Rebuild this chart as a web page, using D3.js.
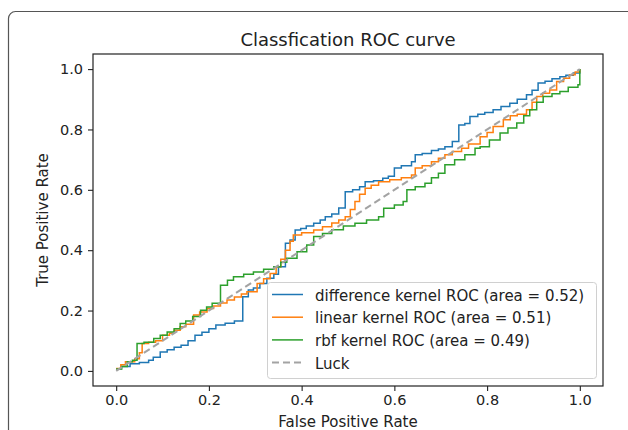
<!DOCTYPE html>
<html>
<head>
<meta charset="utf-8">
<script src="https://cdn.jsdelivr.net/npm/d3@7"></script>
<style>
  body { margin: 0; background: #fff; }
  text { font-family: "DejaVu Sans", sans-serif; fill: #222; }
</style>
</head>
<body>
<div id="vis"></div>
<script>
// ROC curves, [fpr, tpr] after each step
const diffRoc = [
	[0,0.006],[0.01,0.015],[0.03,0.024],[0.05,0.028],[0.07,0.035],[0.08,0.045],[0.095,0.063],
	[0.11,0.07],[0.125,0.078],[0.14,0.085],[0.155,0.1],[0.17,0.118],[0.185,0.128],[0.2,0.14],
	[0.215,0.152],[0.235,0.158],[0.255,0.165],[0.273,0.246],[0.285,0.268],[0.296,0.275],
	[0.31,0.29],[0.325,0.307],[0.34,0.32],[0.35,0.345],[0.365,0.423],[0.375,0.434],[0.386,0.467],
	[0.398,0.472],[0.41,0.48],[0.426,0.489],[0.44,0.5],[0.451,0.511],[0.465,0.52],[0.48,0.54],
	[0.494,0.594],[0.51,0.6],[0.525,0.61],[0.537,0.627],[0.555,0.63],[0.575,0.638],[0.587,0.645],
	[0.6,0.672],[0.615,0.68],[0.637,0.693],[0.645,0.716],[0.66,0.72],[0.68,0.73],[0.695,0.735],
	[0.709,0.743],[0.725,0.76],[0.739,0.815],[0.752,0.82],[0.763,0.843],[0.78,0.85],[0.795,0.856],
	[0.813,0.865],[0.83,0.876],[0.849,0.887],[0.865,0.9],[0.885,0.915],[0.897,0.93],[0.91,0.954],
	[0.925,0.96],[0.94,0.968],[0.957,0.975],[0.97,0.98],[0.986,0.987],[1.0,1.0]
];
const linearRoc = [
	[0,0.008],[0.01,0.02],[0.02,0.03],[0.04,0.04],[0.05,0.06],[0.056,0.091],[0.07,0.095],
	[0.085,0.1],[0.1,0.118],[0.115,0.125],[0.125,0.135],[0.138,0.146],[0.15,0.155],[0.167,0.185],
	[0.18,0.195],[0.196,0.207],[0.21,0.215],[0.225,0.225],[0.239,0.235],[0.255,0.245],[0.27,0.255],
	[0.282,0.262],[0.304,0.29],[0.318,0.305],[0.332,0.323],[0.345,0.345],[0.355,0.37],[0.365,0.4],
	[0.375,0.43],[0.382,0.45],[0.4,0.458],[0.426,0.467],[0.445,0.478],[0.465,0.49],[0.48,0.5],
	[0.494,0.511],[0.505,0.535],[0.515,0.561],[0.525,0.585],[0.537,0.605],[0.55,0.615],[0.566,0.627],
	[0.59,0.633],[0.615,0.64],[0.637,0.649],[0.645,0.672],[0.66,0.68],[0.68,0.693],[0.695,0.705],
	[0.709,0.716],[0.725,0.727],[0.745,0.738],[0.76,0.752],[0.785,0.776],[0.8,0.79],[0.813,0.81],
	[0.835,0.832],[0.85,0.845],[0.865,0.85],[0.885,0.865],[0.897,0.89],[0.907,0.909],[0.92,0.92],
	[0.935,0.931],[0.95,0.959],[0.965,0.97],[0.978,0.981],[0.99,0.99],[1.0,1.0]
];
const rbfRoc = [
	[0,0.006],[0.012,0.015],[0.024,0.03],[0.035,0.035],[0.045,0.091],[0.06,0.095],[0.081,0.107],
	[0.095,0.118],[0.11,0.129],[0.125,0.14],[0.138,0.157],[0.15,0.165],[0.165,0.18],[0.182,0.201],
	[0.195,0.212],[0.207,0.224],[0.225,0.284],[0.24,0.3],[0.253,0.312],[0.275,0.32],[0.296,0.328],
	[0.318,0.337],[0.34,0.345],[0.355,0.36],[0.368,0.373],[0.39,0.395],[0.411,0.417],[0.426,0.445],
	[0.445,0.455],[0.465,0.468],[0.49,0.48],[0.515,0.489],[0.54,0.5],[0.566,0.511],[0.577,0.539],
	[0.6,0.55],[0.619,0.561],[0.627,0.6],[0.645,0.61],[0.666,0.622],[0.68,0.64],[0.695,0.655],
	[0.709,0.683],[0.73,0.7],[0.752,0.716],[0.774,0.738],[0.785,0.743],[0.805,0.765],[0.828,0.788],
	[0.845,0.805],[0.864,0.821],[0.879,0.845],[0.892,0.865],[0.907,0.89],[0.921,0.909],[0.94,0.918],
	[0.957,0.926],[0.975,0.94],[0.996,0.948],[1.0,1.0]
];
const luckLine = [[0,0],[1,1]];

const seriesNames = [
	"difference kernel ROC (area = 0.52)",
	"linear kernel ROC (area = 0.51)",
	"rbf kernel ROC (area = 0.49)",
	"Luck"
];
const seriesColors = ["#1f77b4", "#ff7f0e", "#2ca02c", "#a3a3a3"];
const xTicks = [0, 0.2, 0.4, 0.6, 0.8, 1.0];
const yTicks = [0, 0.2, 0.4, 0.6, 0.8, 1.0];

const W = 628, H = 430;
const plot = {left: 93, top: 54, right: 603, bottom: 386};

const svg = d3.select("#vis").append("svg")
	.attr("width", W)
	.attr("height", H);

// outer frame of the figure (runs off right and bottom)
svg.append("rect")
	.attr("x", 8.5).attr("y", 11.5)
	.attr("width", 660).attr("height", 460)
	.attr("rx", 7)
	.attr("fill", "none")
	.attr("stroke", "#555")
	.attr("stroke-width", 1.2);

const x = d3.scaleLinear().domain([-0.05, 1.05]).range([plot.left, plot.right]);
const y = d3.scaleLinear().domain([-0.05, 1.05]).range([plot.bottom, plot.top]);

const xAxis = svg.append("g")
	.attr("transform", `translate(0,${plot.bottom})`)
	.call(d3.axisBottom(x).tickValues(xTicks).tickFormat(d3.format(".1f")).tickSize(5).tickPadding(4));
const yAxis = svg.append("g")
	.attr("transform", `translate(${plot.left},0)`)
	.call(d3.axisLeft(y).tickValues(yTicks).tickFormat(d3.format(".1f")).tickSize(5).tickPadding(5));
[xAxis, yAxis].forEach(g => {
	g.select(".domain").remove();
	g.selectAll(".tick line").attr("stroke", "#222").attr("stroke-width", 1.1);
	g.selectAll(".tick text")
		.style("font-family", "DejaVu Sans")
		.style("font-size", "14.5px")
		.attr("fill", "#222");
});

const line = d3.line()
	.x(d => x(d[0]))
	.y(d => y(d[1]))
	.curve(d3.curveStepAfter);

[diffRoc, linearRoc, rbfRoc].forEach((s, i) => {
	svg.append("path")
		.datum(s)
		.attr("d", line)
		.attr("fill", "none")
		.attr("stroke", seriesColors[i])
		.attr("stroke-width", 1.5);
});

svg.append("path")
	.datum(luckLine)
	.attr("d", d3.line().x(d => x(d[0])).y(d => y(d[1])))
	.attr("fill", "none")
	.attr("stroke", seriesColors[3])
	.attr("stroke-width", 2)
	.attr("stroke-dasharray", "7,4");

// spines
svg.append("rect")
	.attr("x", plot.left).attr("y", plot.top)
	.attr("width", plot.right - plot.left)
	.attr("height", plot.bottom - plot.top)
	.attr("fill", "none")
	.attr("stroke", "#222")
	.attr("stroke-width", 1.2);

// title and axis labels
svg.append("text")
	.attr("x", (plot.left + plot.right) / 2).attr("y", 46)
	.attr("text-anchor", "middle")
	.style("font-size", "18px")
	.text("Classfication ROC curve");
svg.append("text")
	.attr("x", (plot.left + plot.right) / 2).attr("y", 427)
	.attr("text-anchor", "middle")
	.style("font-size", "15px")
	.text("False Positive Rate");
svg.append("text")
	.attr("transform", `translate(48,${(plot.top + plot.bottom) / 2}) rotate(-90)`)
	.attr("text-anchor", "middle")
	.style("font-size", "15px")
	.text("True Positive Rate");

// legend
const legend = svg.append("g").attr("transform", "translate(267,282)");
legend.append("rect")
	.attr("x", 0.5).attr("y", 0.5)
	.attr("width", 329).attr("height", 96)
	.attr("rx", 3)
	.attr("fill", "#fff").attr("fill-opacity", 0.8)
	.attr("stroke", "#d0d0d0");
seriesNames.forEach((name, i) => {
	const ry = 12.5 + i * 22.7;
	legend.append("line")
		.attr("x1", 5).attr("x2", 36)
		.attr("y1", ry).attr("y2", ry)
		.attr("stroke", seriesColors[i])
		.attr("stroke-width", i === 3 ? 2 : 1.5)
		.attr("stroke-dasharray", i === 3 ? "7,4" : null);
	legend.append("text")
		.attr("x", 48).attr("y", ry + 1)
		.attr("dominant-baseline", "central")
		.style("font-size", "15px")
		.text(name);
});
</script>
</body>
</html>
